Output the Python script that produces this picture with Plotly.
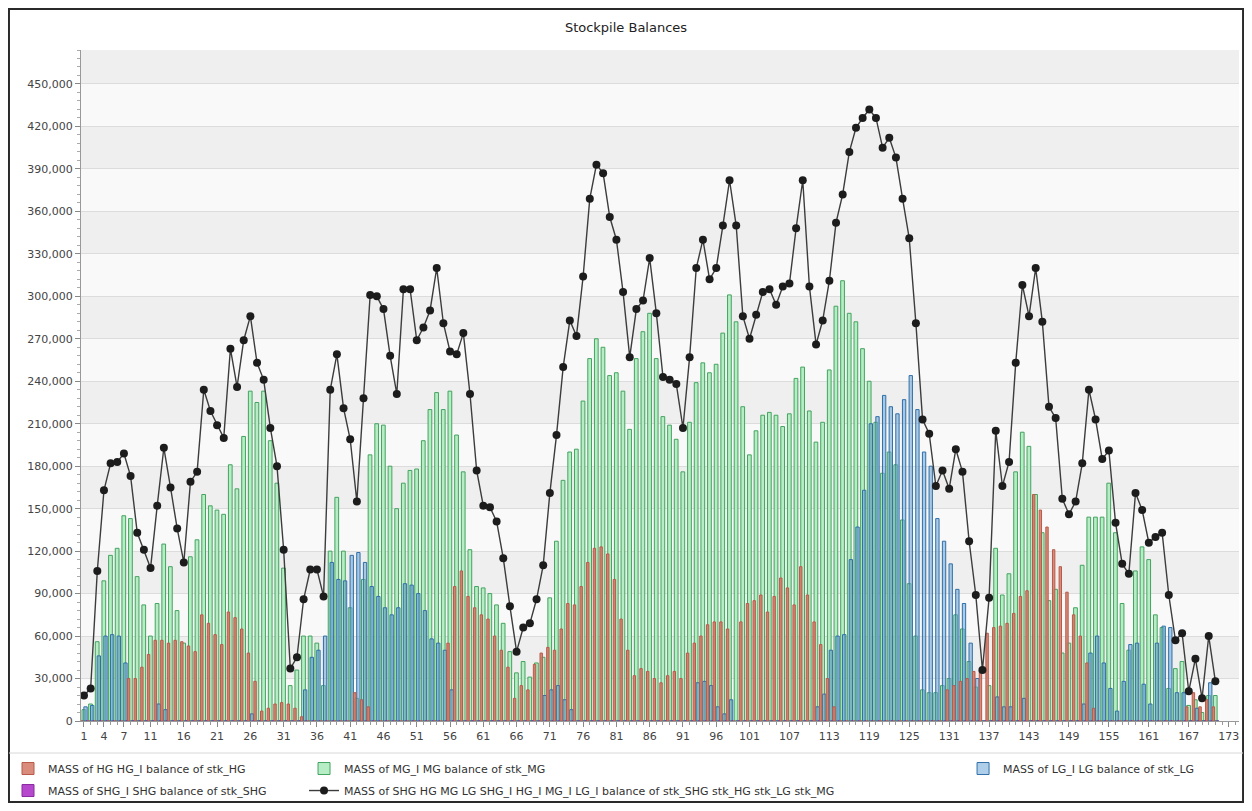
import plotly.graph_objects as go

# period index (1..171), values in thousands of tonnes
periods = list(range(1, 172))
tick_labels = [1, 4, 7, 11, 16, 21, 26, 31, 36, 41, 46, 51, 56, 61, 66, 71, 76, 81, 86, 91,
               96, 101, 107, 113, 119, 125, 131, 137, 143, 149, 155, 161, 167, 173]

hg_k = [0, 0, 0, 0, 0, 0, 0, 30, 30, 38,
        47, 57, 57, 55, 57, 56, 53, 49, 75, 69,
        61, 54, 77, 73, 65, 48, 28, 7, 9, 12,
        13, 12, 9, 3, 0, 0, 0, 0, 0, 0,
        0, 20, 15, 10, 0, 0, 0, 0, 0, 0,
        0, 0, 0, 0, 0, 55, 95, 106, 88, 80,
        75, 72, 60, 50, 38, 16, 25, 22, 40, 48,
        52, 50, 65, 83, 82, 95, 112, 122, 123, 118,
        100, 72, 50, 32, 37, 35, 30, 27, 32, 35,
        30, 48, 55, 60, 68, 70, 70, 65, 0, 70,
        83, 85, 89, 77, 88, 101, 94, 82, 109, 89,
        70, 54, 30, 10, 0, 0, 0, 0, 0, 0,
        0, 0, 0, 0, 0, 0, 0, 0, 0, 0,
        22, 25, 28, 30, 35, 36, 62, 66, 67, 69,
        76, 88, 92, 160, 149, 137, 121, 109, 91, 75,
        60, 41, 9, 0, 0, 0, 0, 0, 0, 0,
        0, 0, 0, 0, 0, 0, 10, 20, 10, 15,
        10]

mg_k = [8, 12, 56, 99, 117, 122, 145, 143, 102, 82,
        60, 83, 125, 109, 78, 55, 116, 128, 160, 152,
        149, 146, 181, 164, 201, 233, 225, 233, 198, 168,
        108, 25, 36, 60, 60, 55, 25, 120, 158, 120,
        80, 16, 100, 188, 210, 209, 180, 150, 168, 177,
        178, 198, 220, 232, 220, 233, 202, 176, 121, 95,
        94, 90, 82, 69, 49, 34, 42, 31, 41, 45,
        87, 127, 170, 190, 192, 226, 256, 270, 264, 244,
        246, 233, 206, 256, 275, 288, 256, 215, 209, 199,
        176, 211, 239, 253, 246, 252, 274, 301, 282, 222,
        188, 205, 216, 218, 216, 208, 217, 242, 250, 219,
        197, 211, 248, 293, 311, 288, 282, 263, 240, 211,
        175, 190, 181, 142, 97, 60, 22, 20, 20, 25,
        30, 75, 65, 42, 24, 0, 25, 122, 89, 104,
        176, 204, 194, 160, 133, 85, 93, 48, 55, 80,
        110, 144, 144, 144, 168, 133, 83, 50, 106, 123,
        114, 75, 66, 23, 37, 42, 11, 15, 6, 18,
        18]

lg_k = [10, 11, 46, 60, 61, 60, 41, 0, 0, 0,
        0, 12, 8, 0, 0, 0, 0, 0, 0, 0,
        0, 0, 0, 0, 0, 5, 0, 0, 0, 0,
        0, 0, 0, 22, 45, 50, 60, 112, 100, 99,
        117, 119, 112, 95, 88, 80, 75, 80, 97, 96,
        90, 78, 58, 55, 50, 22, 0, 0, 0, 0,
        0, 0, 0, 0, 0, 0, 0, 0, 0, 18,
        22, 25, 15, 8, 0, 0, 0, 0, 0, 0,
        0, 0, 0, 0, 0, 0, 0, 0, 0, 0,
        0, 0, 27, 28, 25, 10, 5, 15, 0, 0,
        0, 0, 0, 0, 0, 0, 0, 0, 0, 0,
        10, 19, 50, 60, 61, 114, 137, 163, 210, 215,
        230, 222, 217, 227, 244, 220, 190, 180, 143, 127,
        111, 93, 83, 55, 30, 0, 0, 17, 10, 10,
        0, 16, 0, 0, 0, 0, 0, 0, 0, 0,
        12, 48, 60, 41, 23, 7, 28, 54, 55, 26,
        12, 55, 67, 66, 20, 20, 0, 9, 0, 27,
        0]

shg_k = [0] * len(periods)  # SHG stockpile stays empty throughout

total_k = [18, 23, 106, 163, 182, 183, 189, 173, 133, 121,
           108, 152, 193, 165, 136, 112, 169, 176, 234, 219,
           209, 200, 263, 236, 269, 286, 253, 241, 207, 180,
           121, 37, 45, 86, 107, 107, 88, 234, 259, 221,
           199, 155, 228, 301, 300, 291, 258, 231, 305, 305,
           269, 278, 290, 320, 281, 261, 259, 274, 231, 177,
           152, 151, 141, 115, 81, 49, 66, 69, 86, 110,
           161, 202, 250, 283, 272, 314, 369, 393, 387, 356,
           340, 303, 257, 291, 297, 327, 288, 243, 241, 238,
           207, 257, 320, 340, 312, 320, 350, 382, 350, 286,
           270, 287, 303, 305, 294, 307, 309, 348, 382, 307,
           266, 283, 311, 352, 372, 402, 419, 426, 432, 426,
           405, 412, 398, 369, 341, 281, 213, 203, 166, 177,
           164, 192, 176, 127, 89, 36, 87, 205, 166, 183,
           253, 308, 286, 320, 282, 222, 214, 157, 146, 155,
           182, 234, 213, 185, 191, 140, 111, 104, 161, 149,
           126, 130, 133, 89, 57, 62, 21, 44, 16, 60,
           28]


def tonnes(vals):
    return [v * 1000 for v in vals]


FONT = "DejaVu Sans"
fig = go.Figure()

# bars overlap a little inside each period, like the original renderer
fig.add_trace(go.Bar(x=periods, y=tonnes(mg_k), name="MASS of MG_I MG balance of stk_MG",
                     offset=-0.30, width=0.56,
                     marker=dict(color="rgba(178,236,194,0.95)", line=dict(color="#43a35f", width=1)),
                     legend="legend2", legendgroup="c"))
fig.add_trace(go.Bar(x=periods, y=tonnes(lg_k), name="MASS of LG_I LG balance of stk_LG",
                     offset=-0.02, width=0.5,
                     marker=dict(color="rgba(110,165,215,0.55)", line=dict(color="#2f6fa8", width=1)),
                     legend="legend3", legendgroup="e"))
fig.add_trace(go.Bar(x=periods, y=tonnes(hg_k), name="MASS of HG HG_I balance of stk_HG",
                     offset=-0.48, width=0.36,
                     marker=dict(color="rgba(214,128,110,0.9)", line=dict(color="#b85a48", width=1)),
                     legend="legend", legendgroup="a"))
fig.add_trace(go.Bar(x=periods, y=tonnes(shg_k), name="MASS of SHG_I SHG balance of stk_SHG",
                     offset=0.3, width=0.2,
                     marker=dict(color="#b548cc", line=dict(color="#8a2aa0", width=1)),
                     legend="legend", legendgroup="b"))
fig.add_trace(go.Scatter(x=periods, y=tonnes(total_k), mode="lines+markers",
                         name="MASS of SHG HG MG LG SHG_I HG_I MG_I LG_I balance of stk_SHG stk_HG stk_LG stk_MG",
                         line=dict(color="#3c3c3c", width=1.4),
                         marker=dict(color="#1c1c1c", size=8),
                         legend="legend2", legendgroup="d"))

# faint alternating bands behind the grid
shapes = []
for i in range(16):
    shapes.append(dict(type="rect", xref="paper", yref="y", x0=0, x1=1,
                       y0=i * 30000, y1=min((i + 1) * 30000, 474000),
                       fillcolor="#efefef" if i % 2 else "#f9f9f9",
                       line=dict(width=0), layer="below"))
# outer frame and separator under the axis labels
shapes.append(dict(type="rect", xref="paper", yref="paper", x0=-0.0622, x1=1.0035,
                   y0=-0.1207, y1=1.0611, line=dict(color="#2a2a2a", width=2)))
shapes.append(dict(type="line", xref="paper", yref="paper", x0=-0.0622, x1=1.0035,
                   y0=-0.0477, y1=-0.0477, line=dict(color="#d8d8d8", width=1)))

legend_common = dict(orientation="v", yanchor="top", xanchor="left",
                     xref="container", yref="container", y=0.0616,
                     font=dict(family=FONT, size=11, color="#333"),
                     bgcolor="rgba(0,0,0,0)", traceorder="grouped", tracegroupgap=3)

fig.update_layout(
    width=1236, height=795,
    margin=dict(l=73, r=5, t=42, b=82, autoexpand=False),
    paper_bgcolor="white", plot_bgcolor="#f7f7f7",
    barmode="overlay",
    font=dict(family=FONT, size=11, color="#333"),
    title=dict(text="Stockpile Balances", x=0.5, xanchor="center", y=0.976, yanchor="middle",
               font=dict(family=FONT, size=13, color="#222")),
    shapes=shapes,
    legend=dict(x=0.0, **legend_common),
    legend2=dict(x=0.2395, **legend_common),
    legend3=dict(x=0.7727, **legend_common),
    xaxis=dict(range=[0.55, 174.55], tickmode="array", tickvals=tick_labels,
               ticktext=[str(t) for t in tick_labels], ticks="outside", ticklen=5,
               tickcolor="#888", showgrid=False, showline=True, linecolor="#999",
               tickfont=dict(family=FONT, size=11, color="#444"),
               minor=dict(dtick=1, tick0=1, ticks="outside", ticklen=3, tickcolor="#999",
                          showgrid=False),
               zeroline=False, automargin=False),
    yaxis=dict(range=[0, 474000], dtick=30000, tickformat=",", ticks="outside", ticklen=5,
               tickcolor="#888", showgrid=True, gridcolor="#dcdcdc", showline=True,
               linecolor="#999", zeroline=False, automargin=False,
               tickfont=dict(family=FONT, size=11, color="#444"),
               minor=dict(dtick=6000, ticks="outside", ticklen=3, tickcolor="#aaa",
                          showgrid=False)),
)

fig.write_html("out.html")
